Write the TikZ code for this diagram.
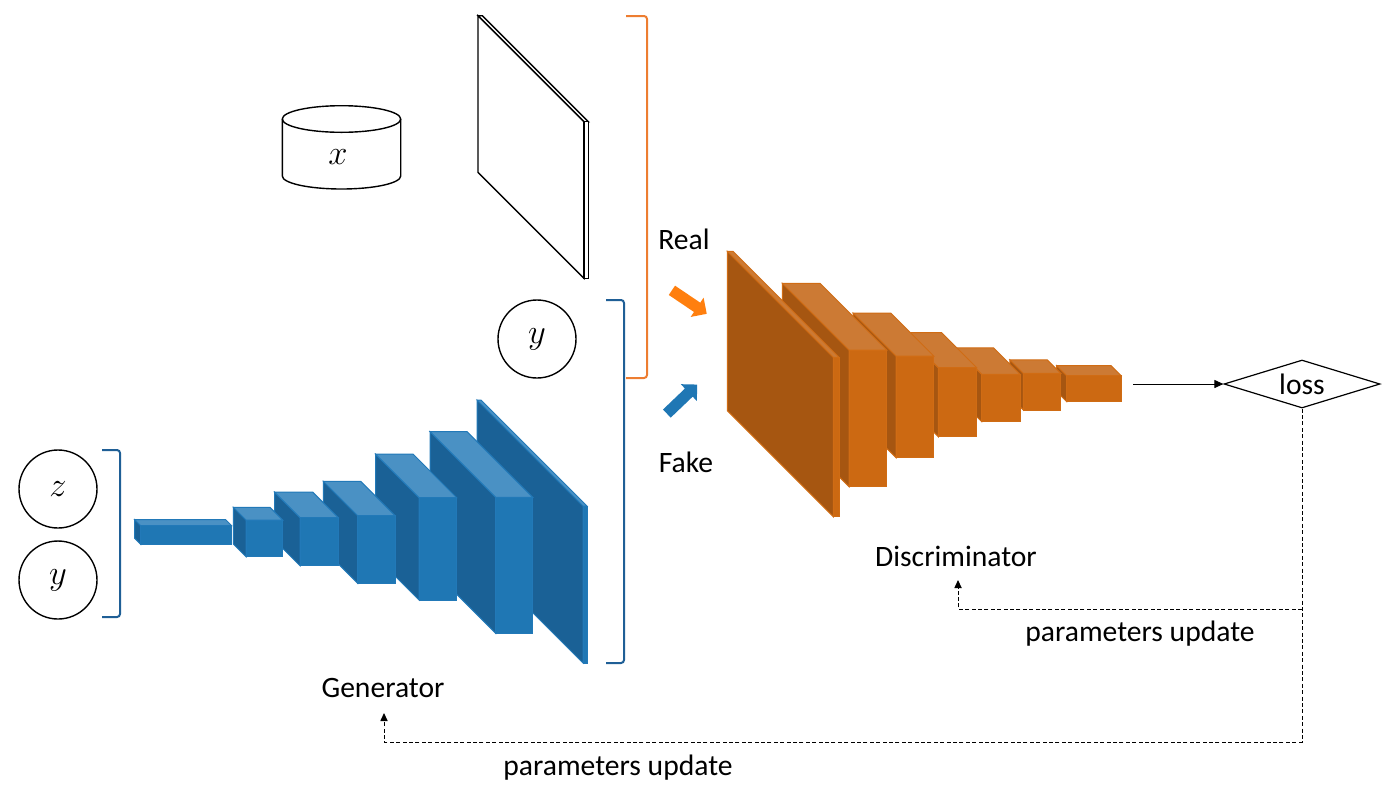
\documentclass[tikz,border=0pt]{standalone}
\usepackage{fontspec}
\setmainfont{Carlito}
\usetikzlibrary{shapes.geometric,shapes.arrows,arrows.meta}
\definecolor{bfront}{HTML}{1F77B4}
\definecolor{bside}{HTML}{1A6196}
\definecolor{btop}{HTML}{4A91C4}
\definecolor{bedge}{HTML}{2279B8}
\definecolor{ofront}{HTML}{CC6912}
\definecolor{oside}{HTML}{A65611}
\definecolor{otop}{HTML}{CC7A34}
\definecolor{oedge}{HTML}{D06C14}
\definecolor{oarrow}{HTML}{FF7F0E}
\definecolor{obrack}{HTML}{ED7D31}
\definecolor{bbrack}{HTML}{1F5F96}
\newcommand{\mycube}[9]{%
  \filldraw[draw=#9, fill=#6] (#1,#3) -- ({#1-#5},{#3-#5}) -- ({#1-#5},{#4-#5}) -- (#1,#4) -- cycle;
  \filldraw[draw=#9, fill=#7] (#1,#3) -- ({#1-#5},{#3-#5}) -- ({#2-#5},{#3-#5}) -- (#2,#3) -- cycle;
  \filldraw[draw=#9, fill=#8] (#1,#3) rectangle (#2,#4);
}
\begin{document}
\begin{tikzpicture}[x=0.5pt,y=-0.5pt,
  txt/.style={font=\fontsize{14.8}{18}\selectfont, inner sep=0pt},
  mth/.style={font=\fontsize{17}{20}\selectfont, inner sep=0pt},
  circ/.style={circle, draw, line width=0.7pt, minimum size=39pt, inner sep=0pt, font=\fontsize{17}{20}\selectfont},
  brack/.style={line width=1pt, rounded corners=1.5pt},
  dconn/.style={line width=0.5pt, dash pattern=on 2pt off 1.2pt, -{Triangle[length=4pt,width=3.6pt]}},
  fat/.style={single arrow, minimum height=21pt, inner sep=2.6pt, single arrow head extend=3pt, single arrow tip angle=90, draw=none}
]
\useasboundingbox (0,0) rectangle (1400,793);

% ---------- generator ----------
\begin{scope}[line width=0.5pt]
\mycube{583}{587}{506}{663}{106}{bside}{btop}{bfront}{bedge}
\mycube{495.7}{532.7}{497.3}{633.3}{65.7}{bside}{btop}{bfront}{bedge}
\mycube{419}{456.7}{497.7}{600}{43.5}{bside}{btop}{bfront}{bedge}
\mycube{357.7}{395}{515.7}{583.3}{34.3}{bside}{btop}{bfront}{bedge}
\mycube{300}{338.3}{517.7}{565.7}{25.5}{bside}{btop}{bfront}{bedge}
\mycube{246}{282.7}{520}{556.7}{12.7}{bside}{btop}{bfront}{bedge}
\mycube{140.7}{231.7}{525.7}{544.3}{6}{bside}{btop}{bfront}{bedge}
\end{scope}

% ---------- discriminator ----------
\begin{scope}[line width=0.5pt]
\mycube{1066.7}{1121}{375.7}{401.7}{10}{oside}{otop}{ofront}{oedge}
\mycube{1023.3}{1060.7}{373.3}{410}{13.5}{oside}{otop}{ofront}{oedge}
\mycube{981.7}{1020}{374.3}{421.7}{26.5}{oside}{otop}{ofront}{oedge}
\mycube{938.3}{976.7}{367.7}{436.7}{35}{oside}{otop}{ofront}{oedge}
\mycube{896}{933.7}{356}{457.7}{43}{oside}{otop}{ofront}{oedge}
\mycube{849}{886.7}{350}{486.7}{66.7}{oside}{otop}{ofront}{oedge}
\mycube{833.3}{839}{357.3}{516.7}{106}{oside}{otop}{ofront}{oedge}
\end{scope}

% ---------- real image plane ----------
\begin{scope}[line width=0.7pt]
\mycube{584}{588.3}{121.7}{278.3}{106}{white}{white}{white}{black}
\end{scope}

% ---------- data cylinder ----------
\draw[line width=0.7pt] (341.5,119) ellipse [x radius=29.6pt, y radius=6.65pt];
\draw[line width=0.7pt] (282.3,119) -- (282.3,176)
  arc[start angle=180, end angle=360, x radius=29.6pt, y radius=6.5pt] -- (400.7,119);
\node[mth] (xdata) at (338,157) {$x$};

% ---------- circles ----------
\node[circ] (zin) at (58,489) {$z$};
\node[circ] (yin) at (58,580) {$y$};
\node[circ] (ycond) at (537,339) {$y$};

% ---------- brackets ----------
\draw[brack, draw=bbrack] (102,450) -- (120,450) -- (120,617) -- (102,617);
\draw[brack, draw=bbrack] (606,300) -- (624,300) -- (624,663) -- (606,663);
\draw[brack, draw=obrack] (626,16) -- (647,16) -- (647,378) -- (626,378);

% ---------- real / fake arrows ----------
\node[fat, fill=oarrow, rotate=-34] (realarrow) at (687,300.5) {};
\node[fat, fill=bfront, rotate=43.7] (fakearrow) at (680,401) {};

% ---------- labels ----------
\node[txt] (real) at (684,239) {Real};
\node[txt] (fake) at (686,462) {Fake};
\node[txt] (disc) at (956,556) {Discriminator};
\node[txt] (gen) at (383,688) {Generator};
\node[txt] (pud) at (1140,634) {parameters update};
\node[txt] (pug) at (618,768) {parameters update};

% ---------- loss ----------
\node[diamond, draw, line width=0.6pt, minimum width=78pt, minimum height=24pt, aspect=3.25, inner sep=0pt, font=\fontsize{14.8}{18}\selectfont] (loss) at (1302,384) {loss};
\coordinate (dout) at (1133,384);
\draw[line width=0.5pt, -{Triangle[length=4.5pt,width=4pt]}] (dout) -- (loss.west);

% ---------- parameter update paths ----------
\coordinate (gtip) at (384,713);
\coordinate (dtip) at (958,580);
\coordinate (bcorner) at (1302,742);
\coordinate (bjoin) at (1302,609);
\draw[dconn] (loss.south) -- (bcorner) -| (gtip);
\draw[dconn] (bjoin) -| (dtip);
\end{tikzpicture}
\end{document}
